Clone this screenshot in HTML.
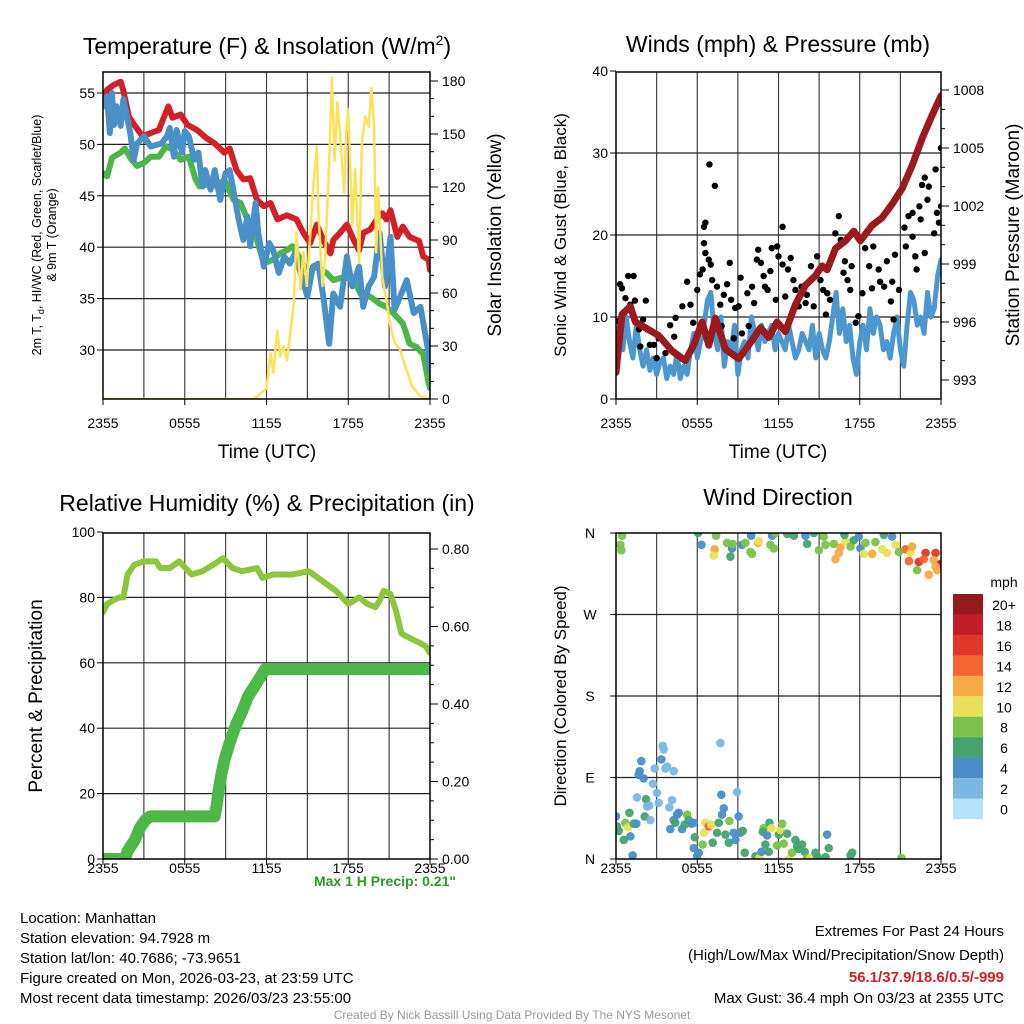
<!DOCTYPE html>
<html><head><meta charset="utf-8"><style>
body{margin:0;background:#fff}
svg{display:block;font-family:"Liberation Sans",Arial,sans-serif}
</style></head><body>
<svg id="s" width="1024" height="1024" viewBox="0 0 1024 1024" xmlns="http://www.w3.org/2000/svg">
<defs>
<clipPath id="c1"><rect x="103" y="72" width="327" height="327"/></clipPath>
<clipPath id="c2"><rect x="616" y="72" width="325" height="327"/></clipPath>
<clipPath id="c3"><rect x="103" y="533" width="327" height="326"/></clipPath>
<clipPath id="c4"><rect x="616" y="533" width="325" height="326"/></clipPath>
</defs>
<rect width="1024" height="1024" fill="#fff"/>
<text x="267" y="54" font-size="23" text-anchor="middle">Temperature (F) &amp; Insolation (W/m<tspan font-size="14" dy="-9">2</tspan><tspan dy="9">)</tspan></text>
<text x="778" y="52" font-size="23" text-anchor="middle">Winds (mph) &amp; Pressure (mb)</text>
<text x="267" y="511" font-size="23" text-anchor="middle">Relative Humidity (%) &amp; Precipitation (in)</text>
<text x="778" y="505" font-size="23" text-anchor="middle">Wind Direction</text>
<g id="g1"></g>
<g id="g2"></g>
<g id="g3"></g>
<g id="g4"></g>
<text transform="translate(41,235) rotate(-90)" font-size="12.5" text-anchor="middle">2m T, T<tspan font-size="9" dy="3">d</tspan><tspan dy="-3">, HI/WC (Red, Green, Scarlet/Blue)</tspan></text>
<text transform="translate(56,235) rotate(-90)" font-size="12.5" text-anchor="middle">&amp; 9m T (Orange)</text>
<text transform="translate(501,235) rotate(-90)" font-size="19" text-anchor="middle">Solar Insolation (Yellow)</text>
<text x="267" y="458" font-size="19" text-anchor="middle">Time (UTC)</text>
<text transform="translate(566,235) rotate(-90)" font-size="17" text-anchor="middle">Sonic Wind &amp; Gust (Blue, Black)</text>
<text transform="translate(1019,235) rotate(-90)" font-size="19" text-anchor="middle">Station Pressure (Maroon)</text>
<text x="778" y="458" font-size="19" text-anchor="middle">Time (UTC)</text>
<text transform="translate(42,696) rotate(-90)" font-size="19" text-anchor="middle">Percent &amp; Precipitation</text>
<text transform="translate(566,696) rotate(-90)" font-size="17" text-anchor="middle">Direction (Colored By Speed)</text>
<text x="385" y="886" font-size="14" font-weight="bold" fill="#2a9a2a" text-anchor="middle">Max 1 H Precip: 0.21"</text>
<g font-size="15">
<text x="20" y="923">Location: Manhattan</text>
<text x="20" y="943">Station elevation: 94.7928 m</text>
<text x="20" y="963">Station lat/lon: 40.7686; -73.9651</text>
<text x="20" y="983">Figure created on Mon, 2026-03-23, at 23:59 UTC</text>
<text x="20" y="1003">Most recent data timestamp: 2026/03/23 23:55:00</text>
</g>
<g font-size="15" text-anchor="end">
<text x="1004" y="936">Extremes For Past 24 Hours</text>
<text x="1004" y="960">(High/Low/Max Wind/Precipitation/Snow Depth)</text>
<text x="1004" y="982" font-weight="bold" fill="#d11f26">56.1/37.9/18.6/0.5/-999</text>
<text x="1004" y="1003">Max Gust: 36.4 mph On 03/23 at 2355 UTC</text>
</g>
<text x="512" y="1019" font-size="12" fill="#999" text-anchor="middle">Created By Nick Bassill Using Data Provided By The NYS Mesonet</text>
<g id="leg"></g>
</svg>
<script>
// ---------- data ----------
const xTickLabels=["2355","0555","1155","1755","2355"];
const tempTicks=[30,35,40,45,50,55];
const insTicks=[0,30,60,90,120,150,180];
const windTicks=[0,10,20,30,40];
const presTicks=[993,996,999,1002,1005,1008];
const rhTicks=[0,20,40,60,80,100];
const precTicks=[0,0.2,0.4,0.6,0.8];
const dirLabels=["N","E","S","W","N"];
const speedBins=["0","2","4","6","8","10","12","14","16","18","20+"];
const speedColors=["#b5e3f8","#7ab8e3","#4a8ec7","#44a36f","#7cc24a","#e7e05a","#f9a844","#f26530","#e0362b","#c11e2a","#961b1f"];

const redT=[0,0.3,0.8,1.3,1.5,1.9,2.3,2.9,3.5,4.1,4.4,4.8,5.1,5.7,6.2,6.9,7.6,8.2,8.9,9.3,9.8,10.3,10.8,11.3,11.8,12.3,12.8,13.5,14.2,14.7,15.2,15.7,16.2,16.7,16.9,17.4,17.9,18.4,18.8,19.1,19.6,20.1,20.5,20.8,21.1,21.6,22,22.5,23.2,23.5,23.9,24];
const redV=[54.8,55.3,55.8,56.1,55.2,52.7,51.9,50.8,51.1,51.4,52.4,53.7,52.6,52.9,51.9,51.4,50.6,50.1,49.2,49.6,47.5,46.6,46.7,44.6,44,44.3,42.7,43.1,42.7,41.4,40.4,42.2,40.6,39.4,40.7,41.4,42.2,40.7,39.7,41.4,41.7,42.7,43.3,42.7,43.6,41,42,41,40.6,39.1,38.8,37.8];
const blueT=[0,0.3,0.5,0.66,0.8,1,1.3,1.5,2,2.25,2.5,3,3.5,4.3,4.7,4.9,5.2,5.4,5.8,6,6.3,6.7,7,7.3,7.5,7.9,8.2,8.6,9,9.3,9.6,9.95,10.3,10.6,10.8,11.2,11.4,11.8,12.2,12.5,12.9,13.3,13.7,14.1,14.5,15,15.4,15.8,16.2,16.6,16.9,17.4,17.9,18.3,18.8,19.1,19.5,19.9,20.3,20.7,21.1,21.4,21.9,22.3,22.8,23.3,23.6,23.9,24];
const blueV=[53.7,54.7,51.1,55,51.9,53.7,51.8,54.4,51.1,48.5,50.1,50.8,49.8,50.1,50.8,51.6,48.8,51.4,49.2,51.3,50.8,48.5,49.2,45.9,47.5,45.6,47.5,44.6,47.2,47.5,45.3,42.7,40.7,43,40.1,44.3,41.4,38.1,40.4,39.7,37.5,39.1,38.4,39.4,37.5,35.2,38.1,38.4,34.9,30.6,35.5,34.2,39.1,36.2,38.1,34.2,36.2,37.1,41.4,36.2,41,33.9,35.5,36.8,33.6,34.2,31.9,29.7,28];
const greenT=[0,0.3,0.66,1.3,1.6,2.1,2.5,3,3.5,4.1,4.6,5.1,5.7,6.3,6.8,7.1,7.9,8.4,8.9,9.6,10.1,10.6,11.3,11.8,12.5,13,13.5,13.9,14.5,15,15.7,16.4,16.9,17.7,18.4,18.9,19.6,20.3,20.8,21.3,22,22.5,23,23.5,23.9,24];
const greenV=[47.2,46.9,48.7,49.2,49.6,48.5,47.9,48.2,48.8,48.8,49.8,49.5,48.5,48.8,46.6,45.9,46.2,45.9,46.6,44.6,44.3,42.7,40.7,38.4,38.8,39.4,39.7,40.1,38.8,37.5,38.1,37.5,36.8,37.1,36.8,35.5,35.2,34.5,34.2,33.6,32.6,30.6,30.3,29.6,26.8,26.3];
const solarT=[0,11,11.3,12,12.3,12.5,12.8,13,13.25,13.5,13.7,14,14.2,14.5,14.7,14.96,15.2,15.45,15.7,15.8,16.1,16.3,16.6,16.8,17,17.2,17.4,17.7,17.85,18,18.3,18.5,18.8,19,19.25,19.5,19.7,19.9,20.05,20.2,20.5,20.8,21.1,21.4,21.8,22.2,22.7,23.3,24];
const solarV=[0,0,1.5,6,26,15,39,24,30,22,35,54,94,62,83,64,92,122,143,107,64,79,135,182,135,168,149,117,151,164,98,130,77,145,160,154,176,154,83,120,69,56,41,32,28,18,7,1.5,0];

const presT=[0,0.44,1.06,1.43,2.17,3.15,4.14,5.12,5.74,6.36,6.85,7.34,8.08,9.06,9.8,10.67,11.28,11.9,12.51,13.25,13.99,14.73,15.22,15.59,16.21,16.95,17.56,18.05,18.92,19.66,20.39,21.13,21.87,22.61,23.35,24];
const presV=[993.4,996.4,996.8,996.0,995.7,995.3,994.5,994.0,994.8,996.0,994.8,996.2,994.6,994.1,994.8,995.7,995.2,996.0,995.5,996.9,997.9,998.4,998.9,998.7,999.8,1000.2,1000.7,1000.2,1001.0,1001.4,1002.1,1002.9,1004.1,1005.5,1006.7,1007.7];
const windT=[0,0.25,0.5,0.75,1,1.25,1.5,1.75,2,2.25,2.5,2.75,3,3.25,3.5,3.75,4,4.25,4.5,4.75,5,5.25,5.5,5.75,6,6.25,6.5,6.75,7,7.25,7.5,7.75,8,8.25,8.5,8.75,9,9.25,9.5,9.75,10,10.25,10.5,10.75,11,11.25,11.5,11.75,12,12.25,12.5,12.75,13,13.25,13.5,13.75,14,14.25,14.5,14.75,15,15.25,15.5,15.75,16,16.25,16.5,16.75,17,17.25,17.5,17.75,18,18.25,18.5,18.75,19,19.25,19.5,19.75,20,20.25,20.5,20.75,21,21.25,21.5,21.75,22,22.25,22.5,22.75,23,23.25,23.5,23.75,24];
const windV=[3.5,9,6,10,7,5,9,6,4,6,3.5,5,3,4.5,5,2.5,4,3,5.5,2.5,4,3,6,8,5,7,9,12,13,8,6,10,4,7,6,9,3,6,7,5,10,8,6,9,7,8,9,6,8,7,6,9,7,5,6,8,7,6,9,5,8,6,5,7,10,13,8,11,7,9,5,3,7,9,6,11,8,10,9,6,7,5,8,10,6,4,9,13,12,9,10,8,13,10,11,15,17,12,11];
const gustT=[0,0,0.3,0.44,0.7,0.9,1.3,1.4,1.06,1.7,1.8,2,2.2,2.3,2.5,2.8,3,3.15,3.65,4,4.3,4.4,4.9,5.25,5.5,5.7,6,6.2,6.4,6.5,6.6,6.5,6.6,6.85,7,6.9,7.3,7.1,7.46,7.7,7.8,7.96,8.2,8.4,8.5,8.7,8.8,9.06,9.2,9.3,9.7,9.8,10.05,10.2,10.4,10.5,10.7,10.9,11,11.2,11.4,11.8,11.5,11.9,12,12.3,12.3,12.5,12.7,12.9,13.1,13.25,13.5,13.7,14,14.1,14.4,14.6,14.85,15.1,15.3,15.5,15.6,15.8,16.2,16.45,16.6,16.8,16.9,17.1,17.3,17.4,17.7,17.9,18.2,18.4,18.7,18.9,19,19.4,19.5,19.8,20,20.3,20.4,20.5,20.6,20.9,21.3,21.4,21.6,21.9,21.9,22.1,22.2,22.4,22.5,22.6,22.8,23.1,23,22.8,23.5,23.6,23.7,23.85,24,24];
const gustV=[7,9.5,14,13.5,12.3,15,15,12,11.5,8.5,6.4,9.7,12,8.5,6.6,6.6,5,7.4,5.6,9,7.6,9.9,11.3,14.3,11.5,9.3,13.3,15.2,15.8,21,21.5,19,17.8,17,16.4,28.6,26,14.5,13.7,11.5,8.9,12.7,14,16.6,12.1,7.4,11.1,11.3,14.8,8,12.9,8.9,13.7,11.7,17,18.2,16.6,15,13.7,13.3,15.6,12.1,18.4,18.6,17.4,16.4,21,12.5,15.8,17.2,14.5,13.3,11.3,13.7,11.7,12.7,16.2,11.3,17.4,14.5,13.3,10.3,12.9,12.1,20.2,22.3,19.4,15.4,16.8,14.5,13.3,16.2,9.3,10.1,12.9,18.4,16.2,13.5,18.6,15.8,14.3,13.7,16.8,11.9,14.3,9.7,17.6,13.3,20.9,18.6,22.3,22.7,19.8,17.4,15.8,23.5,21.9,26.1,27,25.9,24.3,17.8,20.2,28,22.7,21.5,23.5,30.6];

const rhT=[0,0.3,0.7,1.2,1.5,1.8,2.3,3,3.9,4.2,4.9,5.6,6.5,7.3,8.1,8.8,9.5,10.2,11.3,11.7,12.5,13.9,15.1,16.1,17.1,18,18.8,19.4,20,20.3,20.6,21.1,21.5,21.9,22.3,22.8,23.3,23.7,24];
const rhV=[75.5,78,79,80,80,87,90,91,91,89,89,91,87,88,90,92,89,88,89,86,87,87,88,85,82,78,80,78,77,79,82,81,76,69,68,67,66,65,63];
const precT=[0,1.6,1.8,2.35,2.7,3.1,3.45,8.2,8.35,8.5,8.7,8.95,9.3,9.8,10.2,10.65,11.2,11.55,11.9,24];
const precV=[0,0,0.02,0.05,0.08,0.1,0.11,0.11,0.14,0.18,0.22,0.26,0.3,0.35,0.38,0.42,0.45,0.47,0.49,0.49];

const dirT=[0.44,0.32,0.39,6.06,6.31,7.29,7.22,7.39,8.45,8.57,8.2,8.62,9.98,9.31,9.56,9.93,10.49,10.54,10.05,11.4,11.65,11.53,11.77,12.64,13.13,13.99,14.61,14.11,14.98,15.34,15.47,16.08,16.21,16.45,16.58,16.95,16.87,17.32,17.56,17.93,18.05,18.42,18.3,18.92,19.16,19.66,19.78,20.02,20.39,20.64,20.89,21.38,21.75,21.87,21.63,22.36,22.86,22.24,23.1,23.6,23.47,23.72,24,22.73,23.6,
0,0.07,0.2,0.57,0.69,0.89,0.99,1.06,1.31,1.5,1.23,1.55,1.67,1.87,1.75,2.04,2.12,2.22,2.29,2.46,2.54,2.73,2.86,3.03,3.15,3.35,3.45,3.52,3.77,3.65,3.94,4.14,4.26,4.01,4.26,4.38,4.51,4.63,4.88,5.07,5.25,5.37,5.57,5.74,5.81,5.74,5.99,6.11,6.4,6.48,6.6,6.85,7.04,7.14,7.46,7.59,7.71,7.78,7.96,7.83,8.08,8.33,8.37,8.69,8.82,8.94,9.06,9.19,9.36,9.51,10.3,10.59,10.74,10.91,10.84,11.03,11.16,11.28,11.33,11.48,11.9,12.02,12.14,12.27,12.39,12.64,12.76,13,13.25,13.37,13.5,13.74,13.94,14.11,14.36,14.73,14.85,15.47,15.59,15.71,17.44,17.32,21.08];
const dirV=[357,347,341,360,347,342,335,357,334,343,349,348,357,347,349,339,349,351,337,347,343,357,360,359,357,357,360,348,341,356,347,348,331,338,344,351,358,345,352,356,343,349,337,337,350,342,358,338,356,347,339,342,338,345,329,328,338,319,314,338,330,319,326,331,323,
47,36,31,21,40,35,51,25,39,39,4,68,93,108,97,89,47,66,58,59,43,83,100,73,62,110,125,121,102,100,57,65,97,33,43,40,49,51,33,38,49,43,39,40,24,12,3,7,16,29,40,36,38,18,29,40,128,71,56,49,27,18,42,29,21,74,47,29,31,7,3,1,8,34,30,16,26,8,40,34,15,27,32,39,17,28,0,7,21,14,11,16,8,1,1,7,3,2,27,12,7,4,1];
const dirSpd=[8,8,8,6,4,12,10,8,6,4,8,8,4,4,8,8,12,10,8,8,8,4,8,6,6,4,6,6,8,8,8,8,12,12,12,10,6,8,6,4,4,8,10,12,8,10,6,10,4,10,8,14,10,12,14,16,16,8,12,16,12,12,18,14,12,
4,6,6,6,8,10,6,4,6,4,4,2,4,4,4,4,6,6,2,2,2,2,2,2,2,4,2,2,2,2,2,2,2,4,4,6,4,4,4,6,8,6,4,4,6,4,4,4,8,10,10,14,10,6,6,6,2,4,4,4,6,6,8,4,4,2,4,4,6,6,6,10,4,8,6,6,4,6,6,10,8,6,10,8,8,6,10,8,6,6,6,6,6,8,10,6,6,6,4,6,6,6,8];

// ---------- helpers ----------
const NS="http://www.w3.org/2000/svg";
function mk(parent,tag,attrs){const e=document.createElementNS(NS,tag);for(const k in attrs)e.setAttribute(k,attrs[k]);parent.appendChild(e);return e;}
function mkScale(d0,d1,r0,r1){return v=>r0+(v-d0)/(d1-d0)*(r1-r0);}
function pathOf(ts,vs,sx,sy){return ts.map((t,i)=>(i?"L":"M")+sx(t).toFixed(1)+","+sy(vs[i]).toFixed(1)).join("");}

function frame(g,x0,x1,y0,y1,hTicks,sy,labOff){
  const sx=mkScale(0,24,x0,x1);
  for(let h=3;h<24;h+=3){const l=mk(g,"line",{x1:sx(h),x2:sx(h),y1:y0,y2:y1,stroke:"#444","stroke-width":1.2});
    
    }
  hTicks.forEach(v=>{const y=sy(v);if(y>y0+1&&y<y1-1){const l=mk(g,"line",{x1:x0,x2:x1,y1:y,y2:y,stroke:"#222","stroke-width":1.2});
    
    }});
  xTickLabels.forEach((s,i)=>{const x=sx(i*6);
    mk(g,"line",{x1:x,x2:x,y1:y1,y2:y1+6,stroke:"#000"});
    const t=mk(g,"text",{x:x,y:y1+labOff,"font-size":14,"text-anchor":"middle"});t.textContent=s;
    
    });
  return sx;
}
function border(g,x0,x1,y0,y1){const r=mk(g,"rect",{x:x0,y:y0,width:x1-x0,height:y1-y0,fill:"none",stroke:"#000","stroke-width":1.5});
  
  }
function leftTicks(g,x0,ticks,sy,fmt){ticks.forEach(v=>{const y=sy(v);mk(g,"line",{x1:x0-6,x2:x0,y1:y,y2:y,stroke:"#000"});
  const t=mk(g,"text",{x:x0-8,y:y+5,"font-size":14,"text-anchor":"end"});t.textContent=fmt(v);
  
  });}
function rightTicks(g,x1,ticks,sy,fmt,minorStep){
  if(minorStep){const lo=ticks[0],hi=ticks[ticks.length-1];for(let v=lo;v<=hi+1e-9;v+=minorStep){const y=sy(v);mk(g,"line",{x1:x1,x2:x1+4,y1:y,y2:y,stroke:"#000"});}}
  ticks.forEach(v=>{const y=sy(v);mk(g,"line",{x1:x1,x2:x1+8,y1:y,y2:y,stroke:"#000"});
  const t=mk(g,"text",{x:x1+12,y:y+5,"font-size":14,"text-anchor":"start"});t.textContent=fmt(v);
  
  });}

// ---------- panel 1 ----------
(function(){
  const g=document.getElementById("g1");
  const x0=103,x1=430,y0=72,y1=399;
  const sy=mkScale(55,30,93,350);
  const sI=mkScale(0,180,399,81);
  const sx=frame(g,x0,x1,y0,y1,tempTicks,sy,29);
  const c=mk(g,"g",{"clip-path":"url(#c1)","stroke-linejoin":"round","stroke-linecap":"round",fill:"none"});
  const gr=mk(c,"path",{d:pathOf(greenT,greenV,sx,sy),stroke:"#4bb547","stroke-width":6});
  
  
  const rd=mk(c,"path",{d:pathOf(redT,redV,sx,sy),stroke:"#d32028","stroke-width":6});
  
  
  const bl=mk(c,"path",{d:pathOf(blueT,blueV,sx,sy),stroke:"#4a90c8","stroke-width":6});
  
  
  const yl=mk(c,"path",{d:pathOf(solarT,solarV,sx,sI),stroke:"#fbe25a","stroke-width":2.5});
  
  
  border(g,x0,x1,y0,y1);
  leftTicks(g,x0,tempTicks,sy,v=>v);
  rightTicks(g,x1,insTicks,sI,v=>v,10);
})();

// ---------- panel 2 ----------
(function(){
  const g=document.getElementById("g2");
  const x0=616,x1=941,y0=72,y1=399;
  const sy=mkScale(0,40,399,71);
  const sp=mkScale(1008,993,90,380);
  const sx=frame(g,x0,x1,y0,y1,windTicks,sy,29);
  const c=mk(g,"g",{"clip-path":"url(#c2)","stroke-linejoin":"round","stroke-linecap":"round",fill:"none"});
  const bl=mk(c,"path",{d:pathOf(windT,windV,sx,sy),stroke:"#4d97d0","stroke-width":5});
  
  
  gustT.forEach((t,i)=>{const d=mk(c,"circle",{cx:sx(t),cy:sy(gustV[i]),r:3.2,fill:"#000"});
    
    });
  const pr=mk(c,"path",{d:pathOf(presT,presV,sx,sp),stroke:"#9b1a1d","stroke-width":7});
  
  
  border(g,x0,x1,y0,y1);
  leftTicks(g,x0,windTicks,sy,v=>v);
  rightTicks(g,x1,presTicks,sp,v=>v,1);
})();

// ---------- panel 3 ----------
(function(){
  const g=document.getElementById("g3");
  const x0=103,x1=430,y0=533,y1=859;
  const sy=mkScale(0,100,859,532);
  const sP=mkScale(0,0.8,859,549);
  const sx=frame(g,x0,x1,y0,y1,rhTicks,sy,14);
  const c=mk(g,"g",{"clip-path":"url(#c3)","stroke-linejoin":"round","stroke-linecap":"round",fill:"none"});
  const rh=mk(c,"path",{d:pathOf(rhT,rhV,sx,sy),stroke:"#8cc63f","stroke-width":6});
  
  
  const pc=mk(c,"path",{d:pathOf(precT,precV,sx,sP),stroke:"#4cb848","stroke-width":12});
  
  
  border(g,x0,x1,y0,y1);
  leftTicks(g,x0,rhTicks,sy,v=>v);
  rightTicks(g,x1,precTicks,sP,v=>v.toFixed(2),0.05);
})();

// ---------- panel 4 ----------
(function(){
  const g=document.getElementById("g4");
  const x0=616,x1=941,y0=533,y1=859;
  const sy=mkScale(0,360,859,533);
  const sx=frame(g,x0,x1,y0,y1,[0,90,180,270,360],sy,14);
  const c=mk(g,"g",{"clip-path":"url(#c4)"});
  dirT.forEach((t,i)=>{const bin=Math.min(10,Math.round(dirSpd[i]/2));
    const d=mk(c,"circle",{cx:sx(t),cy:sy(dirV[i]),r:4.3,fill:speedColors[bin],"fill-opacity":0.95});
    
    });
  border(g,x0,x1,y0,y1);
  dirLabels.forEach((s,i)=>{const y=sy(i*90);mk(g,"line",{x1:x0-6,x2:x0,y1:y,y2:y,stroke:"#000"});
    const t=mk(g,"text",{x:x0-26,y:y+5,"font-size":14,"text-anchor":"middle"});t.textContent=s;
    
    });
  const lg=document.getElementById("leg");
  const h=mk(lg,"text",{x:1004,y:587,"font-size":14,"text-anchor":"middle"});h.textContent="mph";
  
  
  speedBins.forEach((s,i)=>{const k=10-i;const y=594+i*20.45;
    const r=mk(lg,"rect",{x:953,y:y,width:30,height:20.6,fill:speedColors[k]});
    
    
    const t=mk(lg,"text",{x:1004,y:y+16,"font-size":14,"text-anchor":"middle"});t.textContent=speedBins[k];
    
    });
})();
</script>
</body></html>
